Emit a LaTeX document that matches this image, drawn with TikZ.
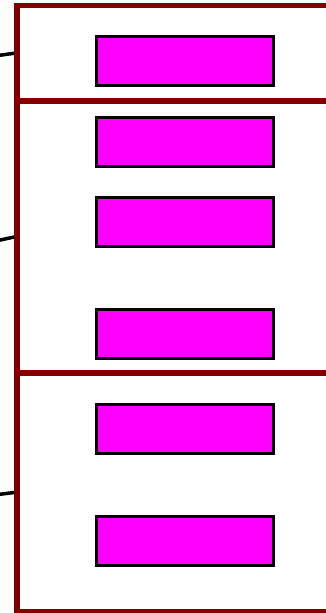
\documentclass[tikz,border=0pt]{standalone}
\definecolor{secred}{HTML}{800000}
\definecolor{boxmag}{HTML}{FF00FF}
\begin{document}
\begin{tikzpicture}[x=1pt,y=-1pt,
  section/.style={draw=secred, line width=5.5pt, rectangle, inner sep=0pt, outer sep=2.75pt, minimum width=383pt},
  magbox/.style={draw=black, fill=boxmag, line width=3pt, rectangle, inner sep=0pt, outer sep=0pt, minimum width=177pt, minimum height=49pt},
  link/.style={draw=black, line width=3.5pt}]
\useasboundingbox (0,0) rectangle (326,613);
\clip (0,0) rectangle (326,613);
\node[section, minimum height=95.5pt] (s1) at (208.5,53.25) {};
\node[section, minimum height=272pt] (s2) at (208.5,237) {};
\node[section, minimum height=239pt] (s3) at (208.5,492.5) {};
\node[magbox] (b1) at (185,61) {};
\node[magbox] (b2) at (185,141.5) {};
\node[magbox] (b3) at (185,221.5) {};
\node[magbox] (b4) at (185,333.5) {};
\node[magbox] (b5) at (185,429) {};
\node[magbox] (b6) at (185,541) {};
\coordinate (c1) at (-2,55.5);
\coordinate (c2) at (-2,240.5);
\coordinate (c3) at (-2,494.5);
\draw[link] (c1) -- (s1.west);
\draw[link] (c2) -- (s2.west);
\draw[link] (c3) -- (s3.west);
\end{tikzpicture}
\end{document}
